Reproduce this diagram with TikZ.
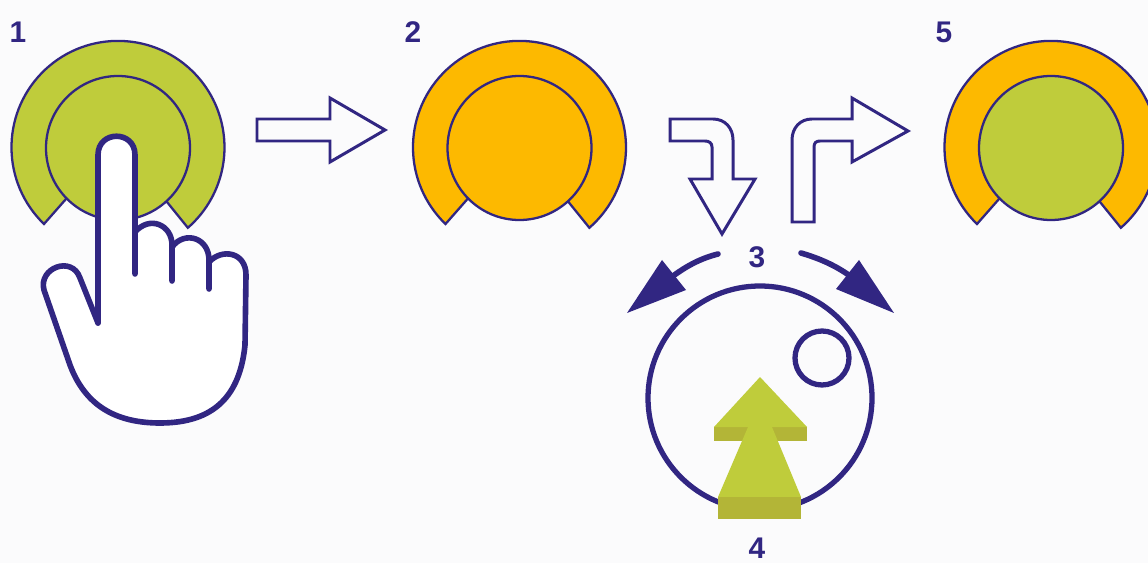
\documentclass[tikz,border=0pt]{standalone}
\usepackage{fontspec}
\setmainfont{Liberation Sans}
\definecolor{inkblue}{HTML}{312682}
\definecolor{dialgreen}{HTML}{BFCC3B}
\definecolor{dialorange}{HTML}{FDB900}
\definecolor{sidegreen}{HTML}{B3B537}
\definecolor{paper}{HTML}{FBFBFC}
\tikzset{
  steplabel/.style={text=inkblue,font=\fontsize{17}{17}\selectfont\bfseries,inner sep=0pt},
  thinline/.style={draw=inkblue,line width=1.3pt},
  flowarrow/.style={draw=inkblue,line width=1.7pt,fill=paper,line join=miter},
  handline/.style={draw=inkblue,line width=3.2pt,line cap=round,line join=round},
  dialline/.style={draw=inkblue,line width=3pt}
}
\begin{document}
\begin{tikzpicture}[x=0.02cm,y=-0.02cm]
  \useasboundingbox (0,0) rectangle (1148,563);
  \clip (0,0) rectangle (1148,563);
  \fill[paper] (0,0) rectangle (1148,563);
  % the three dials
  \foreach \cx/\ringcol/\capcol in {118/dialgreen/dialgreen,519.5/dialorange/dialorange,1051/dialorange/dialgreen} {
    \draw[thinline,fill=\ringcol] (\cx-74,224) arc[start angle=134,end angle=409,radius=106.5]
      -- (\cx+49,202) -- (\cx-52,199) -- cycle;
    \draw[thinline,fill=\capcol] (\cx,148) circle[radius=72];
  }
  % flow arrows
  \draw[flowarrow] (257,119) -- (330,119) -- (330,98) -- (385,130) -- (330,162) -- (330,141) -- (257,141) -- cycle;
  \draw[flowarrow] (670,119) -- (713,119) .. controls (725,119) and (733,128) .. (733,140)
    -- (733,179) -- (755,179) -- (722,234) -- (690,179) -- (712,179) -- (712,147)
    .. controls (712,143) and (709,141) .. (705,141) -- (670,141) -- cycle;
  \draw[flowarrow] (792,222) -- (792,140) .. controls (792,128) and (800,119) .. (812,119)
    -- (852,119) -- (852,98) -- (908,131) -- (852,162) -- (852,141) -- (820,141)
    .. controls (816,141) and (814,143) .. (814,147) -- (814,222) -- cycle;
  % hand
  \path[fill=white] (98,323) -- (98,155) .. controls (98,130) and (135,130) .. (135,155) -- (135,230)
    .. controls (150,215) and (172,225) .. (172,245)
    .. controls (185,230) and (209,238) .. (209,260)
    .. controls (222,248) and (246,252) .. (246,275) -- (245,345)
    .. controls (240,395) and (215,423) .. (160,423)
    .. controls (115,423) and (85,405) .. (70,365)
    -- (44,290) .. controls (38,268) and (72,255) .. (80,278) -- cycle;
  \draw[handline] (98,323) -- (98,155) .. controls (98,130) and (135,130) .. (135,155) -- (135,274);
  \draw[handline] (135,232) .. controls (150,215) and (172,225) .. (172,245) -- (172,281);
  \draw[handline] (172,247) .. controls (185,230) and (209,238) .. (209,260) -- (209,289);
  \draw[handline] (209,262) .. controls (222,248) and (246,252) .. (246,275) -- (245,345)
    .. controls (240,395) and (215,423) .. (160,423)
    .. controls (115,423) and (85,405) .. (70,365)
    -- (44,290) .. controls (38,268) and (72,255) .. (80,278) -- (98,323);
  % turning dial
  \draw[dialline] (760,398) circle[radius=112];
  \draw[dialline] (822,358) circle[radius=27];
  \draw[handline] (718,254) .. controls (702,258) and (688,265) .. (673,276);
  \draw[handline] (801,253) .. controls (818,258) and (835,265) .. (850,276);
  \fill[inkblue] (627,313) -- (662,260) -- (686,290) -- cycle;
  \fill[inkblue] (894,313) -- (859,260) -- (836,289) -- cycle;
  % push arrow
  \fill[sidegreen] (714,427) rectangle (807,441);
  \fill[dialgreen] (760,377) -- (807,427) -- (714,427) -- cycle;
  \fill[dialgreen] (748,427) -- (772,427) -- (801,497) -- (718,497) -- cycle;
  \fill[sidegreen] (718,497) rectangle (801,519);
  % step numbers
  \node[steplabel] (1) at (18,32) {1};
  \node[steplabel] (2) at (413,32) {2};
  \node[steplabel] (3) at (757,257) {3};
  \node[steplabel] (4) at (757,548) {4};
  \node[steplabel] (5) at (944,32) {5};
\end{tikzpicture}
\end{document}
